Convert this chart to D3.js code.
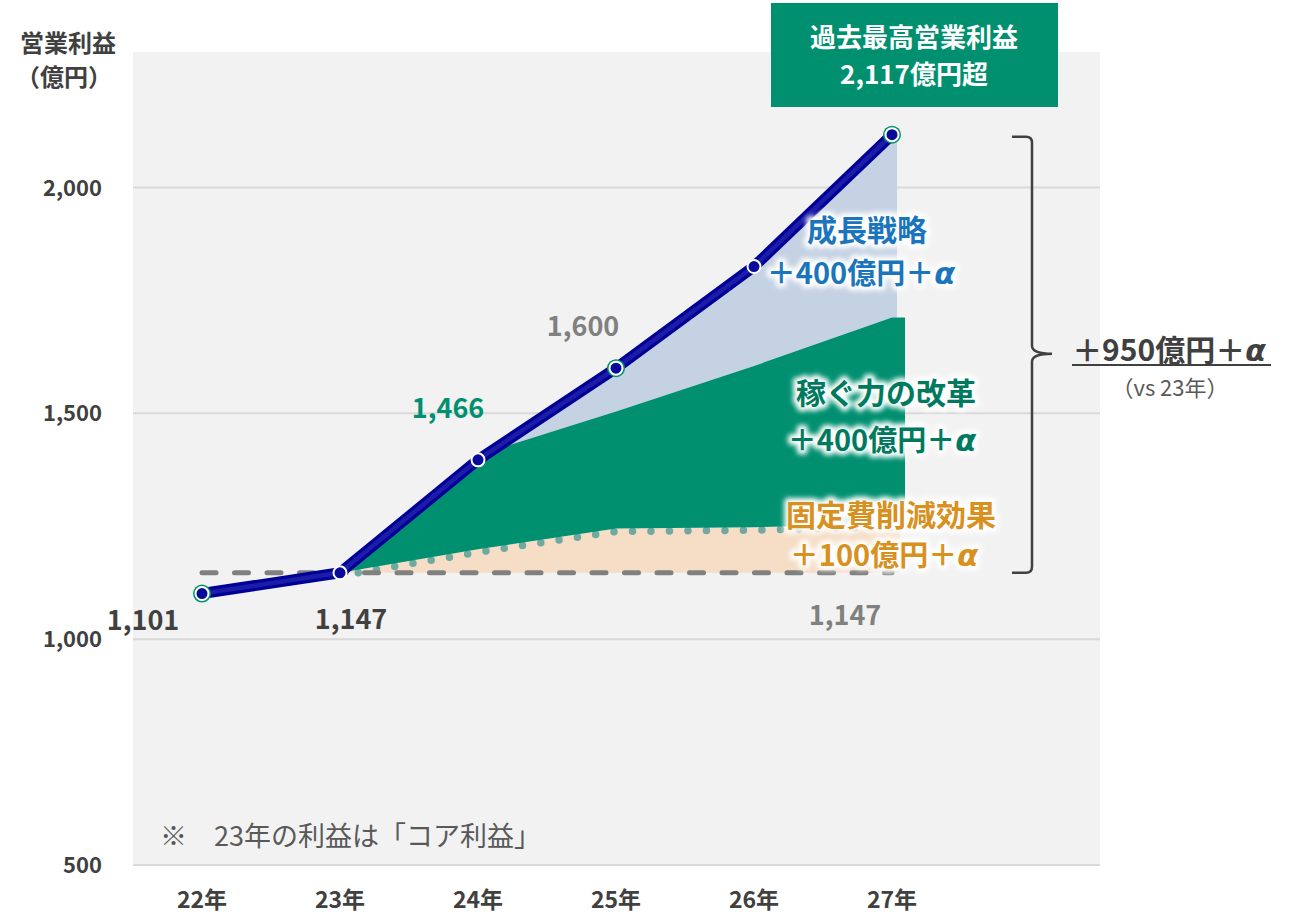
<!DOCTYPE html>
<html><head><meta charset="utf-8">
<script src="https://cdn.jsdelivr.net/npm/d3@7"></script>
<style>
body{margin:0;background:#fff;}
text{font-family:"Noto Sans CJK JP","Noto Sans",sans-serif;}
</style></head>
<body><svg id="c" width="1292" height="915"></svg>
<script>
// ---- data ----
const years = ["22年","23年","24年","25年","26年","27年"];
const profit = [1101, 1147, 1397, 1600, 1825, 2117];          // main line
const earnTop = [null, 1147, 1408, 1504, 1605, 1712];           // 稼ぐ力 area top
const fixedTop = [null, 1147, 1199, 1245, 1248, 1255];          // 固定費削減 area top (dotted)
const base23 = 1147;
const yTicks = [500, 1000, 1500, 2000];
const ringed = ["22年","25年","27年"];
const valueLabels = [
  {text:"1,101", year:"22年", v:1101, color:"#404040", dx:-59, dy:36},
  {text:"1,147", year:"23年", v:1147, color:"#404040", dx:11, dy:56},
  {text:"1,466", year:"24年", v:1466, color:"#009070", dx:-30, dy:-11},
  {text:"1,600", year:"25年", v:1600, color:"#808080", dx:-33, dy:-32},
  {text:"1,147", year:"27年", v:1147, color:"#808080", dx:-47, dy:52}
];

// ---- layout ----
const plot = {x0:133, x1:1100, y0:52, y1:865};
const svg = d3.select("#c");
const x = d3.scalePoint().domain(years).range([202, 892]);
const y = d3.scaleLinear().domain([500, 2300]).range([plot.y1, plot.y0]);

const defs = svg.append("defs");
const f = defs.append("filter").attr("id","glow").attr("x","-10%").attr("y","-30%").attr("width","120%").attr("height","160%");
f.append("feGaussianBlur").attr("stdDeviation",2.5);

// background
svg.append("rect").attr("x",plot.x0).attr("y",plot.y0).attr("width",plot.x1-plot.x0).attr("height",plot.y1-plot.y0).attr("fill","#f2f2f2");

// gridlines
svg.append("g").selectAll("line").data(yTicks).join("line")
  .attr("x1",plot.x0).attr("x2",plot.x1).attr("y1",d=>y(d)).attr("y2",d=>y(d))
  .attr("stroke","#d9d9d9").attr("stroke-width",2);

// y tick labels
svg.append("g").selectAll("text").data(yTicks).join("text")
  .attr("x",102).attr("y",d=>y(d)+8).attr("text-anchor","end")
  .attr("font-size",22).attr("font-weight","bold").attr("fill","#404040")
  .text(d=>d3.format(",")(d));

// axis title
svg.append("text").attr("x",68).attr("y",52).attr("text-anchor","middle").attr("font-size",24).attr("font-weight","bold").attr("fill","#404040").text("営業利益");
svg.append("text").attr("x",64).attr("y",86).attr("text-anchor","middle").attr("font-size",24).attr("font-weight","bold").attr("fill","#404040").text("（億円）");

// x labels
svg.append("g").selectAll("text").data(years).join("text")
  .attr("x",d=>x(d)).attr("y",908).attr("text-anchor","middle")
  .attr("font-size",23).attr("font-weight","bold").attr("fill","#404040").text(d=>d);

function pts(vals, from, overhang){
  const out=[];
  vals.forEach((v,i)=>{ if(v!=null && i>=from) out.push({px:x(years[i]), v, i}); });
  const last=out[out.length-1];
  out.push({px:last.px+overhang, v:last.v, i:last.i});
  return out;
}

// blue area (成長戦略)
const bluePts = [];
for(let i=2;i<years.length;i++) bluePts.push({px:x(years[i]), lo:earnTop[i], hi:profit[i]});
bluePts.push({px:x(years[5])+5, lo:earnTop[5], hi:profit[5]});
svg.append("path").datum(bluePts)
  .attr("d", d3.area().x(d=>d.px).y0(d=>y(d.lo)).y1(d=>y(d.hi)))
  .attr("fill","#c5d2e3");

// orange area (固定費削減)
svg.append("path").datum(pts(fixedTop,1,8))
  .attr("d", d3.area().x(d=>d.px).y0(y(base23)).y1(d=>y(d.v)))
  .attr("fill","#f5ddc6");

// dotted line along fixedTop
svg.append("path").datum(pts(fixedTop,1,-10))
  .attr("d", d3.line().x(d=>d.px).y(d=>y(d.v)))
  .attr("transform","translate(0,3)")
  .attr("fill","none").attr("stroke","#6fa9a0").attr("stroke-width",7.5)
  .attr("stroke-linecap","round").attr("stroke-dasharray","0 18.5");

// green area (稼ぐ力)
const gTop = pts(earnTop,1,13);
const gBot = pts(fixedTop,1,13);
const gArea = gTop.map((d,k)=>({px:d.px, hi:d.v, lo:gBot[k].v}));
svg.append("path").datum(gArea)
  .attr("d", d3.area().x(d=>d.px).y0(d=>y(d.lo)).y1(d=>y(d.hi)))
  .attr("fill","#009070");

// dashed baseline at 1147
svg.append("line").attr("x1",x(years[0])).attr("x2",x(years[5])).attr("y1",y(base23)).attr("y2",y(base23))
  .attr("stroke","#808080").attr("stroke-width",5).attr("stroke-linecap","round").attr("stroke-dasharray","14 18.5");

// main line
const lineGen = d3.line().x((d,i)=>x(years[i])).y(d=>y(d));
svg.append("path").datum(profit).attr("d",lineGen).attr("fill","none").attr("stroke","#000096").attr("stroke-width",11).attr("stroke-linejoin","round");
svg.append("path").datum(profit).attr("d",lineGen).attr("fill","none").attr("stroke","#1c1ca8").attr("stroke-width",4.5).attr("stroke-linejoin","round");

// markers
const mk = svg.append("g").selectAll("g").data(years).join("g");
mk.filter(d=>ringed.includes(d)).append("circle").attr("cx",d=>x(d)).attr("cy",d=>y(profit[years.indexOf(d)])).attr("r",9).attr("fill","#009070");
mk.append("circle").attr("cx",d=>x(d)).attr("cy",d=>y(profit[years.indexOf(d)])).attr("r",6.5).attr("fill","#0a0a9a").attr("stroke","#fff").attr("stroke-width",2);

// value labels
svg.append("g").selectAll("text").data(valueLabels).join("text")
  .attr("x",d=>x(d.year)+d.dx).attr("y",d=>y(d.v)+d.dy)
  .attr("text-anchor","middle").attr("font-size",27).attr("font-weight","bold").attr("fill",d=>d.color).text(d=>d.text);

// annotation texts with white glow
function glowText(cx, cy, parts, color, size){
  const g = svg.append("g");
  [true,false].forEach(bg=>{
    const t = g.append("text").attr("x",cx).attr("y",cy).attr("text-anchor","middle")
      .attr("font-size",size).attr("font-weight","bold").attr("fill",bg?"#fff":color);
    if(bg) t.attr("stroke","#fff").attr("stroke-width",8).attr("stroke-linejoin","round").attr("filter","url(#glow)");
    parts.forEach(p=>{
      const s=t.append("tspan").text(p.t);
      if(p.italic) s.attr("font-style","italic").attr("font-family",'"DejaVu Sans","Noto Sans",sans-serif').attr("font-size",size*1.05);
    });
  });
}
glowText(867, 241, [{t:"成長戦略"}], "#1b75bc", 30);
glowText(861, 284, [{t:"＋400億円＋"},{t:"α",italic:true}], "#1b75bc", 29);
glowText(886, 404, [{t:"稼ぐ力の改革"}], "#007a5e", 30);
glowText(882, 451, [{t:"＋400億円＋"},{t:"α",italic:true}], "#007a5e", 29);
glowText(891, 526, [{t:"固定費削減効果"}], "#d8901e", 30);
glowText(884, 566, [{t:"＋100億円＋"},{t:"α",italic:true}], "#d8901e", 29);

// title box
svg.append("rect").attr("x",771).attr("y",3).attr("width",287).attr("height",104).attr("fill","#009070");
svg.append("text").attr("x",914).attr("y",47).attr("text-anchor","middle").attr("font-size",26).attr("font-weight","bold").attr("fill","#fff").text("過去最高営業利益");
svg.append("text").attr("x",914).attr("y",84).attr("text-anchor","middle").attr("font-size",26).attr("font-weight","bold").attr("fill","#fff").text("2,117億円超");

// brace
const bt = y(2117), bb = y(1147), bm = (bt+bb)/2;
const bx = 1032;
svg.append("path").attr("d",
  `M${bx-20},${bt+2} L${bx-6},${bt+2} Q${bx},${bt+2} ${bx},${bt+8} L${bx},${bm-8} Q${bx},${bm} ${bx+20},${bm}`+
  ` M${bx+20},${bm} Q${bx},${bm} ${bx},${bm+8} L${bx},${bb-6} Q${bx},${bb} ${bx-6},${bb} L${bx-20},${bb}`)
  .attr("fill","none").attr("stroke","#404040").attr("stroke-width",2.5);

// total annotation
const tot = svg.append("text").attr("x",1169).attr("y",361).attr("text-anchor","middle").attr("font-size",30).attr("font-weight","bold").attr("fill","#404040");
tot.append("tspan").text("＋950億円＋");
tot.append("tspan").text("α").attr("font-style","italic").attr("font-family",'"DejaVu Sans",sans-serif');
svg.append("line").attr("x1",1072).attr("x2",1271).attr("y1",365).attr("y2",365).attr("stroke","#404040").attr("stroke-width",2);
svg.append("text").attr("x",1170).attr("y",396).attr("text-anchor","middle").attr("font-size",22).attr("fill","#595959").text("（vs 23年）");

// footnote
svg.append("text").attr("x",160).attr("y",846).attr("font-size",27).attr("fill","#595959").text("※　23年の利益は「コア利益」");
</script>
</body></html>
